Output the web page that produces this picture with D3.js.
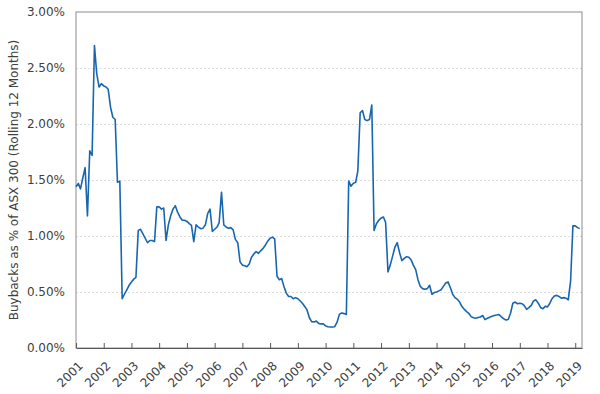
<!DOCTYPE html>
<html>
<head>
<meta charset="utf-8">
<script src="https://cdn.jsdelivr.net/npm/d3@7"></script>
<style>
  body { margin: 0; background: #fff; }
  text { font-family: "DejaVu Sans", sans-serif; fill: #404040; }
  .grid line { stroke: #dcdcdc; stroke-dasharray: 2,2; }
  .grid .domain { display: none; }
</style>
</head>
<body>
<div id="chart"></div>
<script>
// Monthly buybacks as % of ASX 300 (rolling 12 months), Jan 2001 onwards
let startMonth = new Date(2001, 0, 1);
let values2001 = [1.44, 1.47, 1.42, 1.52, 1.61, 1.18, 1.76, 1.72, 2.70, 2.45, 2.33, 2.36];
let values2002 = [2.34, 2.33, 2.31, 2.15, 2.06, 2.04, 1.48, 1.49, 0.44, 0.48, 0.52, 0.56];
let values2003 = [0.59, 0.615, 0.63, 1.05, 1.06, 1.02, 0.98, 0.94, 0.96, 0.96, 0.95, 1.26];
let values2004 = [1.26, 1.24, 1.25, 0.96, 1.10, 1.18, 1.24, 1.27, 1.21, 1.17, 1.14, 1.14];
let values2005 = [1.13, 1.11, 1.095, 0.95, 1.10, 1.08, 1.065, 1.07, 1.10, 1.20, 1.24, 1.04];
let values2006 = [1.06, 1.08, 1.12, 1.39, 1.10, 1.08, 1.07, 1.075, 1.055, 0.97, 0.94, 0.77];
let values2007 = [0.74, 0.735, 0.725, 0.75, 0.81, 0.84, 0.86, 0.845, 0.87, 0.89, 0.92, 0.955];
let values2008 = [0.98, 0.99, 0.975, 0.64, 0.61, 0.62, 0.55, 0.49, 0.46, 0.46, 0.44, 0.45];
let values2009 = [0.44, 0.42, 0.40, 0.37, 0.34, 0.27, 0.235, 0.233, 0.24, 0.22, 0.215, 0.215];
let values2010 = [0.197, 0.19, 0.188, 0.188, 0.19, 0.23, 0.30, 0.313, 0.307, 0.30, 1.49, 1.445];
let values2011 = [1.47, 1.48, 1.58, 2.10, 2.12, 2.04, 2.03, 2.04, 2.17, 1.05, 1.11, 1.14];
let values2012 = [1.16, 1.17, 1.12, 0.68, 0.74, 0.82, 0.90, 0.94, 0.85, 0.78, 0.80, 0.815];
let values2013 = [0.81, 0.785, 0.74, 0.70, 0.61, 0.55, 0.53, 0.525, 0.53, 0.56, 0.48, 0.495];
let values2014 = [0.50, 0.51, 0.52, 0.55, 0.58, 0.59, 0.54, 0.48, 0.45, 0.435, 0.41, 0.37];
let values2015 = [0.345, 0.325, 0.31, 0.28, 0.27, 0.266, 0.272, 0.277, 0.29, 0.254, 0.265, 0.275];
let values2016 = [0.284, 0.29, 0.294, 0.299, 0.28, 0.262, 0.25, 0.255, 0.31, 0.40, 0.41, 0.395];
let values2017 = [0.40, 0.395, 0.378, 0.345, 0.36, 0.38, 0.42, 0.43, 0.40, 0.362, 0.35, 0.372];
let values2018 = [0.367, 0.40, 0.44, 0.465, 0.47, 0.46, 0.445, 0.45, 0.445, 0.43, 0.60, 1.09];
let values2019 = [1.09, 1.075, 1.066];

let yearLabels = ["2001", "2002", "2003", "2004", "2005", "2006", "2007", "2008", "2009", "2010",
  "2011", "2012", "2013", "2014", "2015", "2016", "2017", "2018", "2019"];
let yTicks = [0, 0.5, 1.0, 1.5, 2.0, 2.5, 3.0];

let values = [].concat(values2001, values2002, values2003, values2004, values2005, values2006,
  values2007, values2008, values2009, values2010, values2011, values2012, values2013,
  values2014, values2015, values2016, values2017, values2018, values2019);
let series = values.map((v, i) => ({ date: d3.timeMonth.offset(startMonth, i), value: v }));

// Dimensions of chart.
let margin = { top: 12, right: 18, bottom: 46, left: 76 },
  width = 600 - margin.left - margin.right,
  height = 394 - margin.top - margin.bottom;

let svg = d3
  .select("#chart")
  .append("svg")
  .attr("width", 600)
  .attr("height", 394)
  .append("g")
  .attr("transform", "translate(" + margin.left + "," + margin.top + ")");

// Scales
let x = d3
  .scaleTime()
  .domain([startMonth, new Date(2019, 2, 31)])
  .range([0, width]);
let y = d3.scaleLinear().domain([0, 3]).range([height, 0]);

// Gridlines
svg
  .append("g")
  .attr("class", "grid")
  .call(d3.axisLeft(y).tickValues(yTicks.slice(1, -1)).tickSize(-width).tickFormat(""));

// Frame
svg
  .append("rect")
  .attr("width", width)
  .attr("height", height)
  .attr("fill", "none")
  .attr("stroke", "#8c8c8c")
  .attr("stroke-width", 1);

// y-axis labels
let yAxisEl = svg
  .append("g")
  .call(d3.axisLeft(y).tickValues(yTicks).tickSize(0).tickPadding(11)
    .tickFormat((d) => d3.format(".2f")(d) + "%"));
yAxisEl.select(".domain").remove();
yAxisEl.selectAll("text").style("font-size", "12px");

// x-axis
let xAxisEl = svg
  .append("g")
  .attr("transform", "translate(0," + height + ")")
  .call(d3.axisBottom(x)
    .tickValues(yearLabels.map((yr) => new Date(+yr, 0, 1)))
    .tickSizeInner(-5)
    .tickSizeOuter(0)
    .tickFormat(d3.timeFormat("%Y")));
xAxisEl.select(".domain").attr("stroke", "#595959");
xAxisEl.selectAll(".tick line").attr("stroke", "#595959");
xAxisEl
  .selectAll("text")
  .style("font-size", "12px")
  .style("text-anchor", "end")
  .attr("x", -8)
  .attr("y", 14)
  .attr("dy", "0.35em")
  .attr("transform", "rotate(-45)");

// y-axis title
svg
  .append("text")
  .attr("transform", "rotate(-90)")
  .attr("x", -height / 2)
  .attr("y", -58)
  .style("text-anchor", "middle")
  .style("font-size", "12px")
  .text("Buybacks as % of ASX 300 (Rolling 12 Months)");

// Line
let line = d3
  .line()
  .x((d) => x(d.date))
  .y((d) => y(d.value));

svg
  .append("path")
  .datum(series)
  .attr("fill", "none")
  .attr("stroke", "#1866b0")
  .attr("stroke-width", 1.6)
  .attr("stroke-linejoin", "round")
  .attr("d", line);
</script>
</body>
</html>
